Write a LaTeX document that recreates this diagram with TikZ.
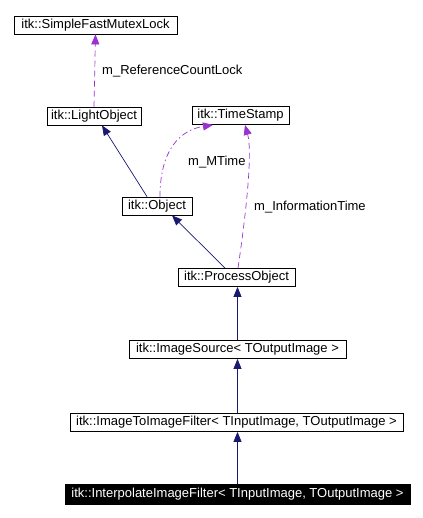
\documentclass[tikz,border=0pt]{standalone}
\usepackage{fontspec}
\setmainfont{Liberation Sans}
\usepackage{xcolor}
\usepackage{tikz}
\usetikzlibrary{arrows.meta}
\definecolor{inhcol}{HTML}{191970}
\definecolor{usecol}{HTML}{9A32CD}

\begin{document}
\begin{tikzpicture}[x=1pt,y=-1pt,
    font=\fontsize{13}{15}\selectfont,
    cls/.style={draw, line width=0.8pt, inner sep=0pt, minimum height=18pt},
    inherit/.style={draw=inhcol, line width=0.7pt, -{Triangle[length=10pt,width=8pt]}, inhcol},
    uses/.style={draw=usecol, line width=0.7pt, dash pattern=on 6pt off 4pt, -{Triangle[length=10pt,width=8pt]}, usecol},
    lbl/.style={inner sep=0pt, anchor=west}]
            \useasboundingbox (0,0) rectangle (422,518);

            \node[cls, minimum width=163pt] (mutex) at (95.5,25) {itk::SimpleFastMutexLock};
            \node[cls, minimum width=94pt] (light) at (94,116) {itk::LightObject};
            \node[cls, minimum width=97pt] (stamp) at (240.5,115.5) {itk::TimeStamp};
            \node[cls, minimum width=70pt] (object) at (157,206) {itk::Object};
            \node[cls, minimum width=117pt] (process) at (236.5,277.5) {itk::ProcessObject};
            \node[cls, minimum width=217pt] (source) at (237.5,349.5) {itk::ImageSource< TOutputImage >};
            \node[cls, minimum width=333pt] (itoi) at (236.5,422.5) {itk::ImageToImageFilter< TInputImage, TOutputImage >};
            \node[cls, fill=black, text=white, minimum width=345pt, minimum height=20pt] (interp) at (237.5,494) {itk::InterpolateImageFilter< TInputImage, TOutputImage >};

            % member links
            \draw[uses] (light.north) -- (mutex.south);
            \node[lbl] (reflbl) at (102,71) {m\_ReferenceCountLock};

            \draw[uses, dash pattern=on 6pt off 3pt on 1.5pt off 3pt] ([xshift=3pt]object.north)
                .. controls (160,150) and (180,130) .. ([xshift=-27.5pt]stamp.south);
            \node[lbl] (mtimelbl) at (188,162) {m\_MTime};

            \draw[uses] ([xshift=1.5pt]process.north)
                .. controls (248,200) and (252,150) .. ([xshift=4.5pt]stamp.south);
            \node[lbl] (infolbl) at (254,207) {m\_InformationTime};

            % inheritance
            \draw[inherit] ([xshift=-10pt]object.north) -- ([xshift=8pt]light.south);
            \draw[inherit] ([xshift=-11.5pt]process.north) -- ([xshift=15pt]object.south);
            \draw[inherit] (source.north) -- (source.north |- process.south);
            \draw[inherit] (itoi.north -| source.north) -- (source.south);
            \draw[inherit] (interp.north -| source.north) -- (itoi.south -| source.north);
        \end{tikzpicture}
\end{document}
